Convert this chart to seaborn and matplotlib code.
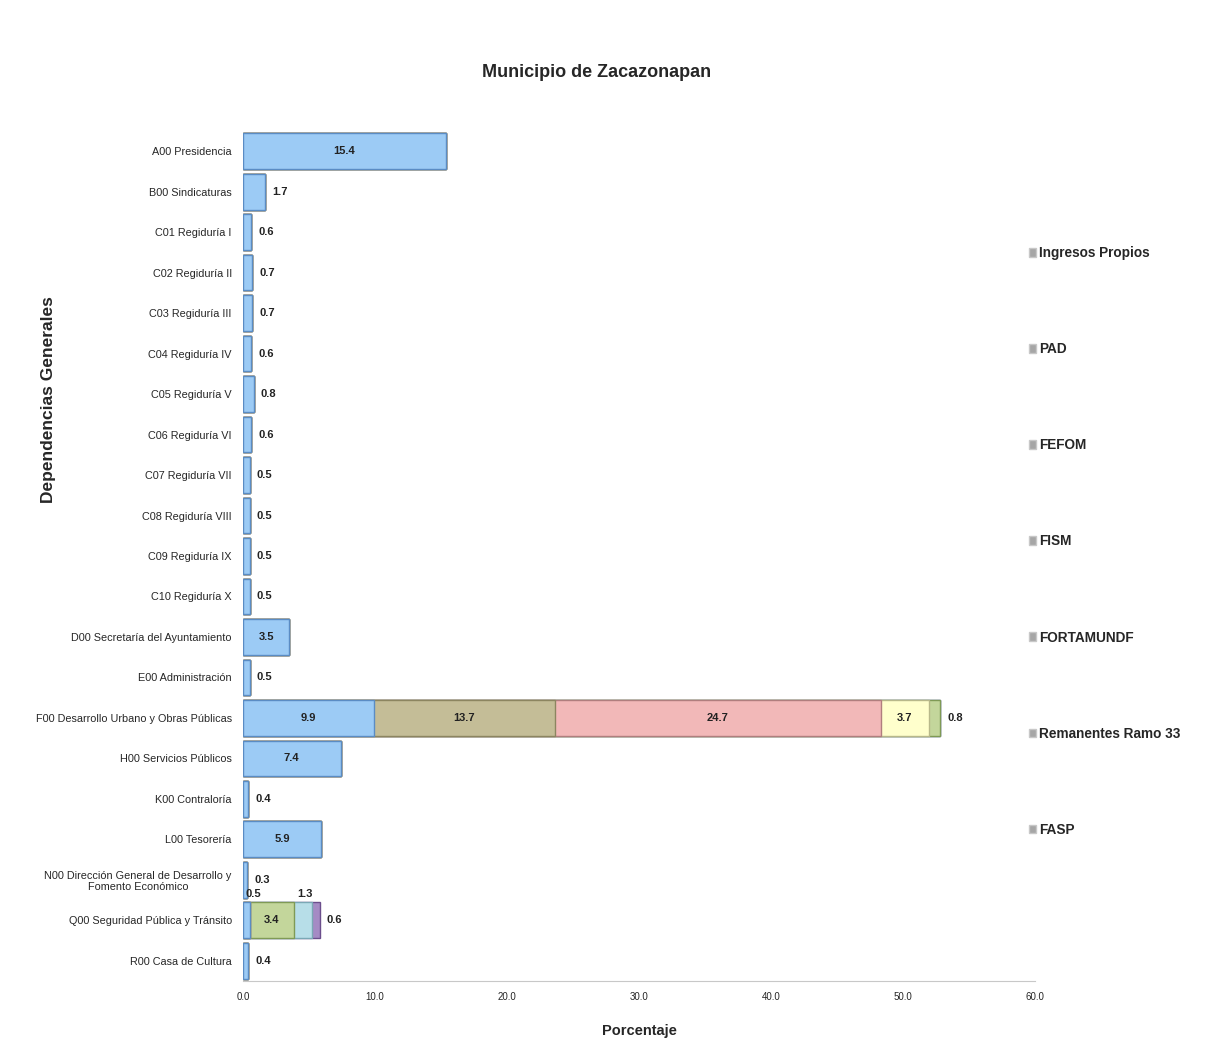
import numpy as np
import pandas as pd
import seaborn as sns
import matplotlib.pyplot as plt
from matplotlib.patches import Patch

dependencias = [
    "A00 Presidencia", "B00 Sindicaturas", "C01 Regiduría I", "C02 Regiduría II",
    "C03 Regiduría III", "C04 Regiduría IV", "C05 Regiduría V", "C06 Regiduría VI",
    "C07 Regiduría VII", "C08 Regiduría VIII", "C09 Regiduría IX", "C10 Regiduría X",
    "D00 Secretaría del Ayuntamiento", "E00 Administración",
    "F00 Desarrollo Urbano y Obras Públicas", "H00 Servicios Públicos",
    "K00 Contraloría", "L00 Tesorería",
    "N00 Dirección General de Desarrollo y\nFomento Económico",
    "Q00 Seguridad Pública y Tránsito", "R00 Casa de Cultura",
]
ingresos_propios = [15.4, 1.7, 0.6, 0.7, 0.7, 0.6, 0.8, 0.6, 0.5, 0.5, 0.5, 0.5,
                    3.5, 0.5, 9.9, 7.4, 0.4, 5.9, 0.3, 0.5, 0.4]
pad = [0] * 14 + [13.7] + [0] * 6
fefom = [0] * 14 + [24.7] + [0] * 6
fism = [0] * 14 + [3.7] + [0] * 6
fortamundf = [0] * 14 + [0.8] + [0] * 4 + [3.4, 0]
remanentes = [0] * 19 + [1.3, 0]
fasp = [0] * 19 + [0.6, 0]

fuentes = ["Ingresos Propios", "PAD", "FEFOM", "FISM", "FORTAMUNDF",
           "Remanentes Ramo 33", "FASP"]
colores = ["#9CCBF5", "#C4BD97", "#F2B8B8", "#FFFFCC", "#C3D69B", "#B7DEE8", "#A58BC4"]
bordes = ["#5A8CC4", "#8C8560", "#B07E7E", "#B8B88A", "#7F9A55", "#7AA8B5", "#6B4E8C"]

df = pd.DataFrame({"Dependencia": dependencias, "Ingresos Propios": ingresos_propios,
                   "PAD": pad, "FEFOM": fefom, "FISM": fism, "FORTAMUNDF": fortamundf,
                   "Remanentes Ramo 33": remanentes, "FASP": fasp})
acum = df[fuentes].cumsum(axis=1)

sns.set_style("white")
plt.rcParams["font.family"] = ["Liberation Sans", "DejaVu Sans"]

fig = plt.figure(figsize=(12.07, 10.59), dpi=100)
ax = fig.add_axes([0.2013, 0.0737, 0.6562, 0.8026])

# barras apiladas: se dibujan los acumulados del mayor al menor
for i in range(len(fuentes) - 1, -1, -1):
    sns.barplot(x=acum[fuentes[i]].values, y=df["Dependencia"], orient="h",
                color=colores[i], edgecolor=bordes[i], linewidth=1, width=0.88,
                saturation=1, ax=ax)

# etiquetas de valores
for r, dep in enumerate(dependencias):
    vals = df.loc[r, fuentes].values.astype(float)
    nz = [j for j in range(len(fuentes)) if vals[j] > 0]
    for j in nz:
        inicio = acum.loc[r, fuentes[j]] - vals[j]
        fin = acum.loc[r, fuentes[j]]
        txt = f"{vals[j]:.1f}"
        if vals[j] >= 2.5:
            ax.text((inicio + fin) / 2, r, txt, ha="center", va="center",
                    fontsize=8, fontweight="bold", color="#222222")
        elif j == nz[-1]:
            ax.text(fin + 0.55, r, txt, ha="left", va="center",
                    fontsize=8, fontweight="bold", color="#222222")
        else:
            ax.text(inicio + 0.2, r - 0.65, txt, ha="left", va="center",
                    fontsize=8, fontweight="bold", color="#222222")

ax.set_xlim(0, 60)
ax.set_xticks(np.arange(0, 61, 10))
ax.set_xticklabels([f"{v:.1f}" for v in np.arange(0, 61, 10)], fontsize=7)
ax.set_yticks(range(len(dependencias)))
ax.set_yticklabels(dependencias, fontsize=7.8, multialignment="center")
ax.tick_params(axis="both", length=0, pad=8)
ax.set_ylabel("")
ax.set_xlabel("Porcentaje", fontsize=10.5, fontweight="bold", labelpad=16)
for s in ["top", "right", "left"]:
    ax.spines[s].set_visible(False)
ax.spines["bottom"].set_color("#C8C8C8")

fig.text(0.494, 0.932, "Municipio de Zacazonapan", ha="center", va="center",
         fontsize=13, fontweight="bold")
fig.text(0.040, 1 - 400 / 1059, "Dependencias Generales", rotation=90, ha="center",
         va="center", fontsize=12.5, fontweight="bold")

handles = [Patch(facecolor="#A6A6A6", edgecolor="#C8C8C8") for _ in fuentes]
fig.legend(handles, fuentes, loc="upper left", bbox_to_anchor=(1017 / 1207, 1 - 234 / 1059),
           frameon=False, handlelength=0.5, handleheight=0.6, handletextpad=0.2,
           labelspacing=6.03, prop={"size": 9.8, "weight": "bold"})

fig.savefig("out.png", dpi=100, facecolor="white")
